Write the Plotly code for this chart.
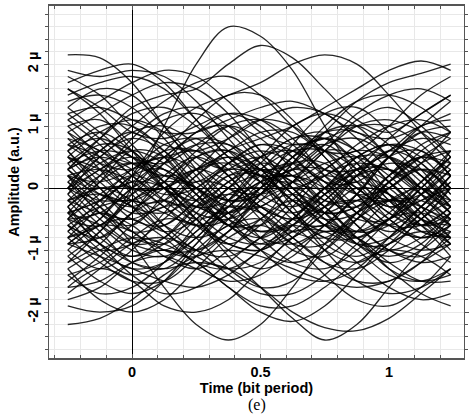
import plotly.graph_objects as go

# sample times (bit period)
t_bits = [-0.25, -0.125, 0.0, 0.125, 0.25, 0.375, 0.5, 0.625, 0.75, 0.875, 1.0, 1.125, 1.24]

# amplitude traces (µ a.u.)
t01 = [-0.5, -0.6, 0.0, 1.0, 2.0, 2.6, 2.45, 1.9, 1.0, 0.2, -0.3, 0.0, 0.6]
t02 = [0.3, 0.8, 1.3, 1.5, 1.6, 2.0, 2.3, 2.1, 1.6, 1.1, 0.9, 1.2, 1.5]
t03 = [2.15, 2.1, 1.7, 1.0, 0.3, -0.2, -0.1, 0.4, 0.9, 1.0, 0.7, 0.2, -0.3]
t04 = [1.9, 1.8, 1.9, 1.8, 1.4, 0.8, 0.3, 0.2, 0.6, 1.1, 1.3, 1.0, 0.5]
t05 = [-0.8, -0.5, 0.2, 0.9, 1.3, 1.5, 1.7, 2.0, 2.15, 2.0, 1.5, 0.9, 0.4]
t06 = [0.5, 0.0, -0.4, -0.3, 0.2, 0.6, 0.8, 1.0, 1.3, 1.6, 1.9, 2.05, 1.9]
t07 = [-0.2, -0.4, -0.5, -0.2, 0.3, 0.5, 0.3, 0.4, 0.9, 1.4, 1.7, 1.85, 2.0]
t08 = [0.2, -0.3, -0.9, -1.6, -2.2, -2.45, -2.2, -1.6, -0.9, -0.4, -0.2, -0.3, -0.6]
t09 = [-0.4, -0.2, 0.1, 0.0, -0.5, -1.1, -1.6, -2.1, -2.45, -2.2, -1.6, -1.0, -0.5]
t10 = [-1.3, -1.0, -0.8, -0.9, -1.2, -1.6, -2.0, -2.15, -1.9, -1.4, -0.9, -0.7, -0.8]
t11 = [-0.6, -0.9, -1.2, -1.3, -1.2, -1.3, -1.6, -2.0, -2.25, -2.3, -2.1, -1.7, -1.3]
t12 = [-2.2, -2.1, -1.8, -1.4, -1.1, -1.0, -1.1, -1.3, -1.5, -1.6, -1.5, -1.2, -0.9]
t13 = [-1.9, -2.0, -1.9, -1.5, -0.9, -0.3, 0.1, 0.2, -0.1, -0.6, -1.0, -1.2, -1.1]
t14 = [-1.6, -1.3, -1.5, -1.9, -2.0, -1.8, -1.3, -0.8, -0.6, -0.8, -1.3, -1.7, -1.9]
t15 = [1.6, 1.2, 0.6, 0.0, -0.4, -0.5, -0.2, 0.4, 1.0, 1.4, 1.5, 1.3, 0.9]
t16 = [1.4, 1.5, 1.3, 0.8, 0.2, -0.4, -0.8, -0.9, -0.6, -0.1, 0.5, 1.0, 1.4]
t17 = [0.9, 1.2, 1.5, 1.7, 1.6, 1.2, 0.6, 0.0, -0.5, -0.7, -0.5, 0.0, 0.5]
t18 = [0.7, 0.4, 0.3, 0.6, 1.1, 1.5, 1.5, 1.1, 0.5, 0.0, -0.3, -0.2, 0.2]
t19 = [-0.3, 0.2, 0.8, 1.2, 1.3, 1.0, 0.5, 0.1, 0.0, 0.3, 0.8, 1.2, 1.5]
t20 = [0.0, -0.5, -0.9, -1.0, -0.7, -0.2, 0.3, 0.6, 0.6, 0.3, -0.2, -0.6, -0.9]
t21 = [-0.7, -0.2, 0.3, 0.5, 0.3, -0.2, -0.8, -1.2, -1.3, -1.0, -0.5, 0.1, 0.6]
t22 = [0.4, 0.6, 0.5, 0.1, -0.4, -0.8, -0.9, -0.6, -0.1, 0.4, 0.7, 0.6, 0.2]
t23 = [-1.2, -0.7, -0.1, 0.4, 0.7, 0.7, 0.4, -0.1, -0.6, -0.9, -0.8, -0.4, 0.1]
t24 = [1.0, 0.5, -0.1, -0.6, -0.8, -0.6, -0.1, 0.5, 0.9, 0.9, 0.5, -0.1, -0.6]
t25 = [-0.5, -1.0, -1.3, -1.2, -0.8, -0.3, 0.1, 0.2, 0.0, -0.4, -0.8, -1.0, -0.9]
t26 = [0.2, 0.3, 0.1, -0.3, -0.6, -0.5, 0.0, 0.7, 1.2, 1.3, 0.9, 0.3, -0.2]
t27 = [-0.9, -0.8, -0.4, 0.1, 0.5, 0.6, 0.3, -0.2, -0.5, -0.4, 0.1, 0.6, 0.9]
t28 = [0.6, 1.0, 1.0, 0.6, 0.0, -0.5, -0.7, -0.5, 0.0, 0.5, 0.7, 0.5, 0.0]
t29 = [-0.1, -0.6, -1.0, -1.1, -0.8, -0.2, 0.4, 0.8, 0.8, 0.4, -0.1, -0.5, -0.6]
t30 = [1.2, 0.8, 0.4, 0.2, 0.3, 0.6, 0.9, 0.9, 0.5, -0.1, -0.6, -0.8, -0.6]
t31 = [-1.5, -1.1, -0.6, -0.3, -0.3, -0.6, -1.0, -1.2, -1.0, -0.5, 0.1, 0.5, 0.6]
t32 = [0.3, -0.2, -0.7, -1.0, -1.0, -0.7, -0.3, -0.1, -0.3, -0.8, -1.3, -1.5, -1.4]
t33 = [-0.4, 0.1, 0.4, 0.3, 0.0, -0.2, -0.1, 0.3, 0.7, 0.8, 0.5, 0.0, -0.4]
t34 = [0.8, 0.6, 0.2, -0.2, -0.3, 0.0, 0.5, 1.0, 1.2, 1.0, 0.5, 0.0, -0.3]
t35 = [-0.8, -1.2, -1.5, -1.5, -1.1, -0.5, 0.0, 0.3, 0.3, 0.0, -0.4, -0.7, -0.8]
t36 = [1.8, 1.5, 1.0, 0.7, 0.6, 0.8, 1.1, 1.3, 1.2, 0.8, 0.3, -0.1, -0.3]
t37 = [-1.1, -1.5, -1.7, -1.5, -1.0, -0.6, -0.5, -0.8, -1.2, -1.5, -1.5, -1.2, -0.7]
t38 = [0.1, 0.5, 0.9, 1.0, 0.7, 0.2, -0.3, -0.5, -0.3, 0.2, 0.6, 0.8, 0.7]
t39 = [-0.2, -0.1, -0.3, -0.7, -1.1, -1.3, -1.2, -0.8, -0.3, 0.2, 0.4, 0.3, 0.0]
t40 = [0.5, 0.9, 1.1, 0.9, 0.4, 0.0, -0.1, 0.1, 0.4, 0.5, 0.2, -0.3, -0.8]
t41 = [-1.4, -1.7, -1.6, -1.2, -0.6, -0.1, 0.0, -0.4, -1.0, -1.5, -1.7, -1.6, -1.3]
t42 = [1.3, 1.6, 1.5, 1.0, 0.5, 0.3, 0.5, 0.8, 0.9, 0.6, 0.1, -0.3, -0.5]
t43 = [-0.6, -0.3, -0.2, -0.4, -0.6, -0.4, 0.1, 0.6, 0.8, 0.6, 0.1, -0.4, -0.8]
t44 = [0.0, 0.3, 0.7, 1.1, 1.2, 0.9, 0.4, -0.1, -0.4, -0.3, 0.1, 0.5, 0.8]
t45 = [-1.7, -1.3, -0.9, -0.8, -1.0, -1.4, -1.7, -1.7, -1.4, -0.9, -0.5, -0.4, -0.6]
t46 = [0.9, 0.4, 0.0, 0.0, 0.3, 0.8, 1.1, 1.0, 0.6, 0.1, -0.2, -0.1, 0.3]
t47 = [-0.3, -0.8, -1.1, -0.9, -0.4, 0.1, 0.3, 0.1, -0.4, -0.9, -1.1, -0.9, -0.4]
t48 = [0.6, 0.1, -0.3, -0.4, -0.1, 0.4, 0.7, 0.5, 0.0, -0.6, -1.0, -1.1, -0.8]
t49 = [1.5, 1.7, 1.8, 1.6, 1.1, 0.6, 0.2, 0.1, 0.3, 0.7, 1.0, 1.1, 0.9]
t50 = [-0.9, -0.5, 0.0, 0.2, 0.0, -0.5, -1.0, -1.4, -1.5, -1.3, -0.8, -0.3, 0.2]
t51 = [0.2, -0.1, -0.2, 0.1, 0.6, 1.0, 1.1, 0.8, 0.2, -0.3, -0.6, -0.6, -0.3]
t52 = [-0.5, -0.4, 0.0, 0.5, 0.8, 0.7, 0.2, -0.4, -0.8, -0.8, -0.5, -0.2, 0.0]
t53 = [1.1, 0.7, 0.2, -0.1, 0.0, 0.4, 0.7, 0.6, 0.2, -0.1, 0.0, 0.4, 0.9]
t54 = [-1.0, -0.6, -0.5, -0.8, -1.2, -1.3, -1.0, -0.5, 0.0, 0.2, 0.0, -0.5, -1.0]
t55 = [0.4, 0.8, 1.2, 1.3, 1.0, 0.5, 0.1, 0.0, 0.2, 0.5, 0.5, 0.2, -0.2]
t56 = [-0.2, 0.0, 0.0, -0.3, -0.8, -1.3, -1.6, -1.5, -1.0, -0.5, -0.2, -0.2, -0.5]
t57 = [0.0, 0.4, 0.6, 0.4, 0.0, -0.3, -0.3, 0.1, 0.6, 1.0, 1.1, 0.9, 0.5]
t58 = [-0.7, -1.0, -0.9, -0.5, 0.0, 0.3, 0.2, -0.2, -0.6, -0.7, -0.4, 0.1, 0.5]
t59 = [0.7, 0.5, 0.0, -0.6, -1.0, -1.1, -0.8, -0.3, 0.2, 0.4, 0.3, 0.0, -0.2]
t60 = [-0.1, 0.3, 0.5, 0.3, -0.2, -0.6, -0.6, -0.2, 0.3, 0.6, 0.5, 0.1, -0.4]
t61 = [1.7, 1.9, 2.0, 1.7, 1.1, 0.5, 0.2, 0.3, 0.7, 1.2, 1.5, 1.6, 1.4]
t62 = [1.1, 1.4, 1.7, 1.9, 1.8, 1.4, 0.9, 0.7, 0.8, 1.0, 1.0, 0.7, 0.2]
t63 = [-1.8, -1.6, -1.2, -1.0, -1.2, -1.6, -1.9, -1.9, -1.6, -1.2, -1.0, -1.1, -1.4]
t64 = [-1.3, -1.8, -2.0, -1.8, -1.3, -0.8, -0.6, -0.9, -1.4, -1.8, -1.9, -1.6, -1.1]
t65 = [0.3, 0.6, 1.0, 1.4, 1.7, 1.8, 1.5, 1.0, 0.6, 0.6, 1.0, 1.5, 1.8]
t66 = [-0.4, -0.9, -1.4, -1.7, -1.6, -1.2, -0.8, -0.6, -0.8, -1.2, -1.6, -1.8, -1.7]
t67 = [0.2, -0.4, -0.6, -0.1, 0.5, 0.6, 0.1, -0.5, -0.6, -0.1, 0.5, 0.6, 0.2]
t68 = [-0.5, 0.1, 0.6, 0.5, -0.1, -0.6, -0.5, 0.1, 0.6, 0.5, -0.1, -0.7, -0.8]
t69 = [0.8, 0.3, -0.3, -0.7, -0.5, 0.0, 0.4, 0.2, -0.3, -0.7, -0.6, -0.1, 0.4]
t70 = [-1.0, -1.3, -1.0, -0.4, 0.1, 0.0, -0.5, -1.0, -1.1, -0.7, -0.2, 0.0, -0.3]
t71 = [0.0, 0.6, 0.9, 0.5, -0.1, -0.4, -0.1, 0.5, 0.8, 0.4, -0.2, -0.6, -0.5]
t72 = [-0.6, -0.8, -0.4, 0.2, 0.5, 0.2, -0.4, -0.9, -0.9, -0.4, 0.2, 0.5, 0.3]
t73 = [0.5, 0.2, -0.2, -0.2, 0.2, 0.5, 0.3, -0.3, -0.9, -1.1, -0.8, -0.3, 0.1]
t74 = [-0.2, -0.7, -1.2, -1.3, -0.9, -0.4, -0.3, -0.6, -1.0, -1.2, -0.9, -0.4, 0.0]
t75 = [1.0, 1.1, 0.7, 0.1, -0.3, -0.2, 0.3, 0.7, 0.6, 0.1, -0.5, -0.8, -0.7]
t76 = [-0.8, -0.3, 0.2, 0.3, -0.1, -0.6, -0.8, -0.5, 0.0, 0.3, 0.1, -0.4, -0.9]
t77 = [0.3, 0.7, 0.6, 0.0, -0.6, -0.9, -0.6, -0.1, 0.2, 0.0, -0.4, -0.6, -0.3]
t78 = [-1.2, -0.9, -0.4, -0.2, -0.5, -1.0, -1.3, -1.1, -0.6, -0.2, -0.2, -0.6, -1.1]
t79 = [0.1, -0.2, -0.1, 0.4, 0.9, 1.0, 0.6, 0.0, -0.4, -0.3, 0.2, 0.7, 0.9]
t80 = [-0.4, -0.6, -0.9, -0.8, -0.3, 0.2, 0.3, -0.1, -0.6, -0.8, -0.5, 0.0, 0.4]
t81 = [0.6, 0.0, -0.5, -0.6, -0.2, 0.2, 0.2, -0.2, -0.4, -0.1, 0.5, 0.9, 0.8]
t82 = [-0.1, 0.5, 0.8, 0.6, 0.1, -0.2, 0.0, 0.5, 0.7, 0.3, -0.3, -0.6, -0.4]
t83 = [-0.9, -0.6, -0.7, -1.1, -1.3, -1.0, -0.5, -0.2, -0.4, -0.9, -1.2, -1.0, -0.6]
t84 = [0.4, -0.1, -0.3, 0.0, 0.3, 0.1, -0.4, -0.7, -0.4, 0.2, 0.6, 0.4, -0.1]
t85 = [-0.3, 0.0, -0.2, -0.7, -1.0, -0.7, -0.1, 0.3, 0.1, -0.4, -0.7, -0.5, 0.0]
t86 = [0.9, 0.6, 0.4, 0.5, 0.6, 0.3, -0.2, -0.4, -0.1, 0.3, 0.3, -0.1, -0.5]
t87 = [-0.7, -0.4, -0.6, -1.0, -1.1, -0.7, -0.2, 0.0, -0.3, -0.8, -1.0, -0.8, -0.4]
t88 = [0.0, -0.3, -0.7, -0.6, -0.2, 0.3, 0.5, 0.2, -0.2, -0.2, 0.2, 0.5, 0.4]
t89 = [-1.1, -0.7, -0.2, 0.0, -0.2, -0.6, -0.9, -0.8, -0.4, 0.0, -0.1, -0.5, -0.9]
t90 = [0.3, 0.5, 0.3, -0.2, -0.5, -0.3, 0.2, 0.4, 0.1, -0.4, -0.6, -0.3, 0.2]
t91 = [-0.5, -0.1, 0.2, 0.0, -0.5, -0.9, -1.0, -0.6, -0.1, 0.1, -0.1, -0.5, -0.7]
t92 = [0.7, 0.9, 0.6, 0.2, 0.1, 0.4, 0.6, 0.4, -0.1, -0.5, -0.5, -0.1, 0.3]
t93 = [-0.3, -0.9, -1.1, -0.8, -0.3, -0.1, -0.3, -0.7, -0.8, -0.4, 0.1, 0.3, 0.0]
t94 = [0.2, 0.1, 0.3, 0.7, 0.8, 0.4, -0.1, -0.3, 0.0, 0.5, 0.7, 0.4, -0.1]
t95 = [-0.8, -0.6, -0.2, 0.1, 0.0, -0.4, -0.7, -0.6, -0.2, 0.2, 0.3, 0.0, -0.4]
t96 = [0.5, 0.3, 0.0, 0.0, 0.3, 0.4, 0.1, -0.4, -0.7, -0.5, 0.0, 0.3, 0.2]
t97 = [-0.6, -1.1, -1.4, -1.2, -0.7, -0.3, -0.4, -0.8, -1.2, -1.3, -1.0, -0.5, -0.2]
t98 = [1.3, 0.9, 0.5, 0.4, 0.7, 1.0, 0.8, 0.3, -0.2, -0.3, 0.0, 0.4, 0.6]
t99 = [-0.2, 0.2, 0.4, 0.1, -0.3, -0.4, 0.0, 0.4, 0.4, -0.1, -0.6, -0.8, -0.6]
t100 = [0.1, -0.4, -0.8, -0.9, -0.5, 0.0, 0.2, 0.0, -0.5, -0.9, -0.9, -0.5, 0.0]
t101 = [-1.4, -1.2, -0.8, -0.5, -0.6, -0.9, -1.0, -0.7, -0.3, -0.2, -0.5, -0.9, -1.2]
t102 = [0.6, 0.8, 0.5, 0.0, -0.2, 0.1, 0.5, 0.6, 0.3, -0.1, -0.2, 0.1, 0.5]
t103 = [-0.4, -0.2, 0.2, 0.6, 0.6, 0.2, -0.3, -0.5, -0.2, 0.3, 0.5, 0.2, -0.3]
t104 = [1.6, 1.3, 0.9, 0.8, 1.0, 1.2, 1.0, 0.5, 0.1, 0.1, 0.5, 0.9, 1.0]
t105 = [-1.6, -1.5, -1.2, -1.1, -1.3, -1.5, -1.4, -1.0, -0.7, -0.8, -1.2, -1.5, -1.5]
t106 = [0.3, 0.0, 0.1, 0.5, 0.9, 1.2, 1.1, 0.7, 0.3, 0.3, 0.6, 1.0, 1.1]
t107 = [-0.9, -1.1, -1.3, -1.5, -1.6, -1.4, -1.0, -0.7, -0.7, -1.0, -1.4, -1.5, -1.3]
t108 = [1.2, 1.3, 1.1, 0.9, 0.9, 1.1, 1.3, 1.4, 1.2, 0.9, 0.8, 1.0, 1.2]

y_tick_vals = [-2, -1, 0, 1, 2]
y_tick_text = ["-2 µ", "-1 µ", "0", "1 µ", "2 µ"]
x_tick_vals = [0, 0.5, 1]
x_tick_text = ["0", "0.5", "1"]

traces = [t01, t02, t03, t04, t05, t06, t07, t08, t09, t10, t11, t12, t13, t14, t15,
          t16, t17, t18, t19, t20, t21, t22, t23, t24, t25, t26, t27, t28, t29, t30,
          t31, t32, t33, t34, t35, t36, t37, t38, t39, t40, t41, t42, t43, t44, t45,
          t46, t47, t48, t49, t50, t51, t52, t53, t54, t55, t56, t57, t58, t59, t60,
          t61, t62, t63, t64, t65, t66, t67, t68, t69, t70, t71, t72, t73, t74, t75,
          t76, t77, t78, t79, t80, t81, t82, t83, t84, t85, t86, t87, t88, t89, t90,
          t91, t92, t93, t94, t95, t96, t97, t98, t99, t100, t101, t102, t103, t104,
          t105, t106, t107, t108]

fig = go.Figure()
for tr in traces:
    fig.add_trace(go.Scatter(
        x=t_bits, y=tr, mode="lines",
        line=dict(color="rgba(0,0,0,0.85)", width=1.3, shape="spline", smoothing=1.0),
        hoverinfo="skip", showlegend=False))

tick_font = dict(family="Arial, Liberation Sans", size=14.5, color="black", weight="bold")
title_font = dict(family="Arial, Liberation Sans", size=14.5, color="black", weight="bold")

fig.update_layout(
    width=469, height=418,
    margin=dict(l=49, r=0, t=6, b=60),
    paper_bgcolor="white", plot_bgcolor="white",
    xaxis=dict(
        range=[-0.323, 1.292], tickvals=x_tick_vals, ticktext=x_tick_text,
        tickfont=tick_font, ticks="inside", ticklen=4, tickcolor="#555",
        showgrid=True, gridcolor="#e8e8e8", gridwidth=1,
        minor=dict(dtick=0.1, tick0=0, showgrid=True, gridcolor="#e8e8e8",
                   ticks="inside", ticklen=3, tickcolor="#555"),
        showline=True, linecolor="#555", linewidth=2, mirror="ticks",
        zeroline=True, zerolinecolor="black", zerolinewidth=1,
        title=dict(text="Time (bit period)", font=title_font, standoff=0),
    ),
    yaxis=dict(
        range=[-2.74, 2.937], tickvals=y_tick_vals, ticktext=y_tick_text,
        tickfont=tick_font, tickangle=-90, ticks="outside", ticklen=4, tickcolor="#555",
        showgrid=True, gridcolor="#e8e8e8", gridwidth=1,
        minor=dict(dtick=0.2, tick0=0, showgrid=True, gridcolor="#e8e8e8",
                   ticks="outside", ticklen=3, tickcolor="#555"),
        showline=True, linecolor="#555", linewidth=1, mirror="ticks",
        zeroline=True, zerolinecolor="black", zerolinewidth=1,
        title=dict(text="Amplitude (a.u.)", font=title_font, standoff=2),
    ),
    annotations=[dict(text="(e)", x=0.5, y=-0.1335, xref="paper", yref="paper",
                      xanchor="center", yanchor="middle", showarrow=False,
                      font=dict(family="Liberation Serif, Times New Roman",
                                size=16, color="black"))],
)

fig.write_html("out.html")
